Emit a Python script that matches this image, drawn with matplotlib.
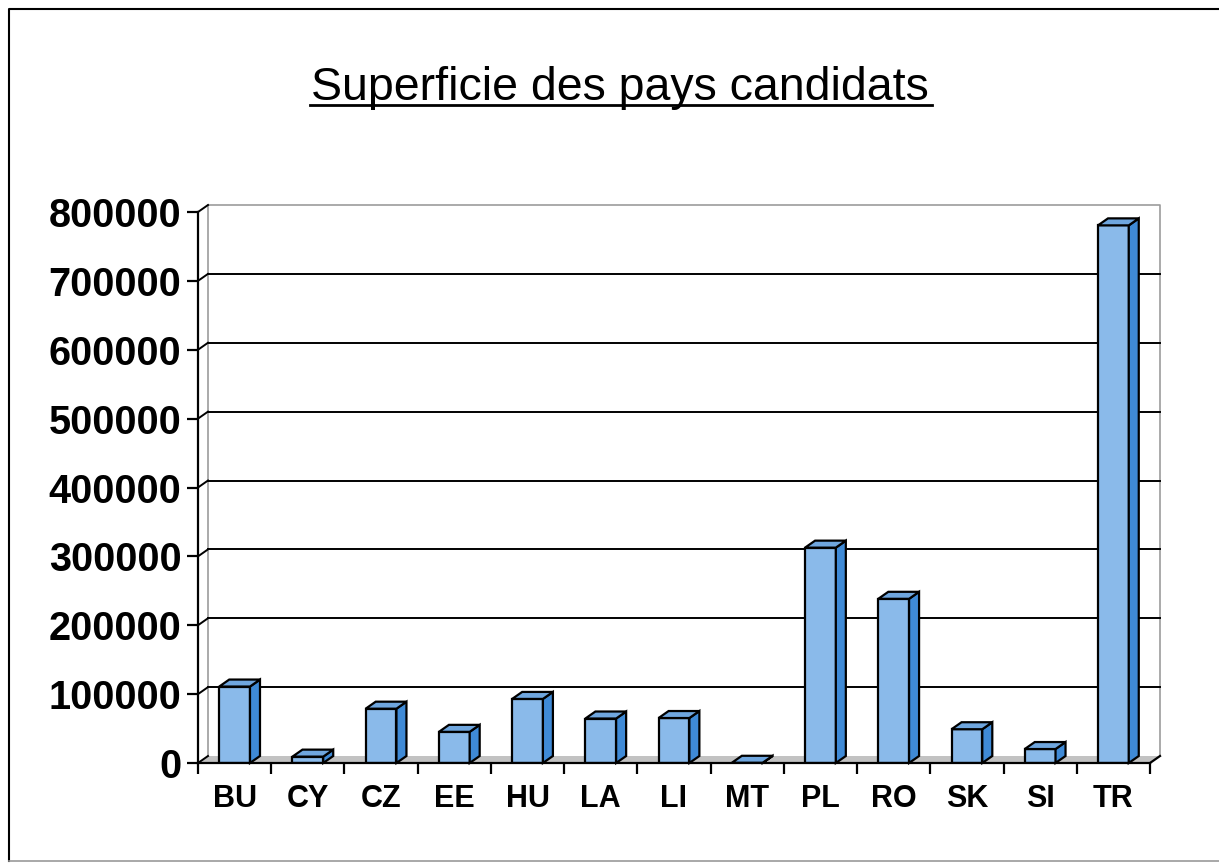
import numpy as np
import matplotlib
matplotlib.use("Agg")
import matplotlib.pyplot as plt
from matplotlib.patches import Polygon
from matplotlib.lines import Line2D
from matplotlib.transforms import IdentityTransform, offset_copy

# Superficie (km2) des pays candidats
pays = ["BU", "CY", "CZ", "EE", "HU", "LA", "LI", "MT", "PL", "RO", "SK", "SI", "TR"]
superficie = [110994, 9251, 78866, 45226, 93030, 64589, 65300, 316,
              312685, 238391, 49035, 20273, 780580]
graduations = [0, 100000, 200000, 300000, 400000, 500000, 600000, 700000, 800000]
etiquettes = [str(v) for v in graduations]
titre = "Superficie des pays candidats"

plt.rcParams['font.family'] = ['Liberation Sans', 'DejaVu Sans']

W, H = 1219, 863
fig = plt.figure(figsize=(W / 100, H / 100), dpi=100)
ax = fig.add_axes([198 / W, 100 / H, 952 / W, 551 / H])
n = len(pays)
ax.set_xlim(0, n)
ax.set_ylim(0, graduations[-1])
ax.patch.set_visible(False)
for s in ['top', 'right']:
    ax.spines[s].set_visible(False)
for s in ['left', 'bottom']:
    ax.spines[s].set_linewidth(1.6)
    ax.spines[s].set_zorder(5)

# depth of the pseudo 3D effect, in pixels
dx, dy = 10, 7
back = offset_copy(ax.transData, fig=fig, x=dx, y=dy, units='dots')
ident = IdentityTransform()


def px(xd, yd, arriere=False):
    p = ax.transData.transform((xd, yd))
    if arriere:
        p = p + np.array([dx, dy])
    return p


# floor
sol = Polygon([px(0, 0), px(n, 0), px(n, 0, True), px(0, 0, True)],
              closed=True, facecolor='#c2c2c2', edgecolor='none',
              transform=ident, clip_on=False, zorder=1)
ax.add_patch(sol)

# back wall and gridlines
top = graduations[-1]
ax.plot([0, 0, n, n], [0, top, top, 0], transform=back, color='#9c9c9c',
        lw=1.2, clip_on=False, zorder=1)
for g in graduations[1:-1]:
    ax.plot([0, n], [g, g], transform=back, color='black', lw=1.4,
            clip_on=False, zorder=1)
for g in graduations:
    p0, p1 = px(0, g), px(0, g, True)
    ax.add_line(Line2D([p0[0], p1[0]], [p0[1], p1[1]], transform=ident,
                       color='black', lw=1.4, clip_on=False, zorder=5))
p0, p1 = px(n, 0), px(n, 0, True)
ax.add_line(Line2D([p0[0], p1[0]], [p0[1], p1[1]], transform=ident,
                   color='black', lw=1.6, clip_on=False, zorder=5))

# bars
centres = np.arange(n) + 0.5
larg = 0.42
ax.bar(centres, superficie, width=larg, color='#8abaea', edgecolor='black',
       linewidth=1.6, zorder=3)
for c, v in zip(centres, superficie):
    g, d = c - larg / 2, c + larg / 2
    cote = Polygon([px(d, 0), px(d, v), px(d, v, True), px(d, 0, True)],
                   closed=True, facecolor='#3f8ad6', edgecolor='black',
                   lw=1.6, transform=ident, clip_on=False, zorder=3)
    dessus = Polygon([px(g, v), px(d, v), px(d, v, True), px(g, v, True)],
                     closed=True, facecolor='#6fa6de', edgecolor='black',
                     lw=1.6, transform=ident, clip_on=False, zorder=3)
    ax.add_patch(cote)
    ax.add_patch(dessus)

# axes ticks
ax.set_xticks(centres, pays)
ax.set_xticks(np.arange(n + 1), minor=True)
ax.tick_params(axis='x', which='major', length=0, pad=15, labelsize=22)
ax.tick_params(axis='x', which='minor', length=8, width=1.6, direction='out')
ax.set_yticks(graduations, etiquettes)
ax.tick_params(axis='y', length=8, width=1.6, pad=4, labelsize=28.5)
for lab in ax.get_xticklabels() + ax.get_yticklabels():
    lab.set_fontweight('bold')

# title, underlined
t = fig.text(620 / W, 1 - 100 / H, titre, ha='center', va='baseline',
             fontsize=33.5)
fig.canvas.draw()
bb = t.get_window_extent()
yb = (H - 100) - 5
fig.add_artist(Line2D([bb.x0 - 1, bb.x1 + 3], [yb, yb], transform=ident,
                      color='black', lw=2))

# frame round the whole picture
fig.add_artist(Line2D([W + 20, 9, 9], [H - 9, H - 9, 2], transform=ident,
                      color='black', lw=1.5))
fig.add_artist(Line2D([9, W + 20], [2, 2], transform=ident,
                      color='#9a9a9a', lw=1.2))

fig.savefig('out.png', dpi=100)
